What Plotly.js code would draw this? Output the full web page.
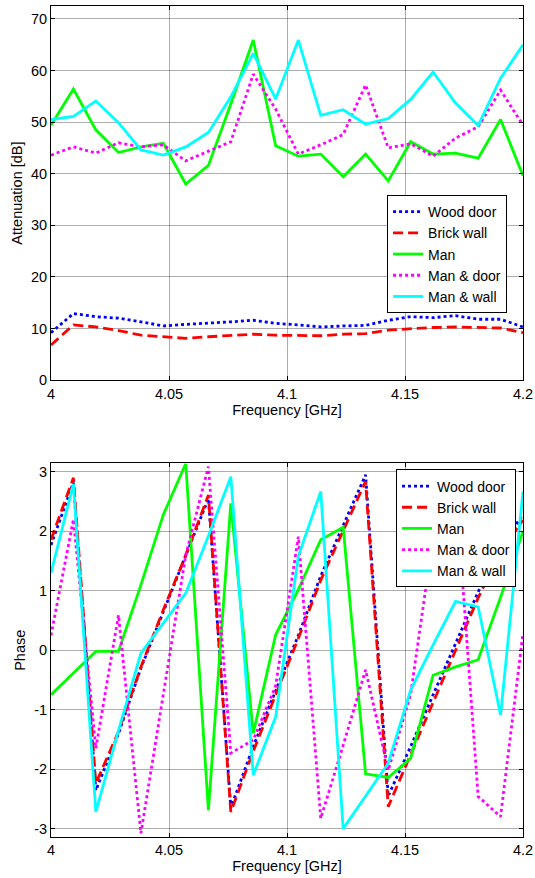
<!DOCTYPE html>
<html>
<head>
<meta charset="utf-8">
<script src="https://cdn.plot.ly/plotly-3.0.1.min.js"></script>
<style>
html,body{margin:0;padding:0;background:#fff;}
#chart{width:535px;height:878px;}
</style>
</head>
<body>
<div id="chart"></div>
<script>
// Frequency samples [GHz]
var freq = [4.0000, 4.0095, 4.0190, 4.0286, 4.0381, 4.0476, 4.0571, 4.0667, 4.0762, 4.0857, 4.0952,
            4.1048, 4.1143, 4.1238, 4.1333, 4.1429, 4.1524, 4.1619, 4.1714, 4.1810, 4.1905, 4.2000];

var seriesNames = ["Wood door", "Brick wall", "Man", "Man & door", "Man & wall"];

// Attenuation [dB]
var attWoodDoor  = [9.2, 12.9, 12.3, 12.0, 11.3, 10.5, 10.8, 11.0, 11.3, 11.6, 11.0,
                    10.7, 10.3, 10.5, 10.6, 11.6, 12.3, 12.1, 12.5, 11.8, 11.8, 10.3];
var attBrickWall = [6.8, 10.7, 10.3, 9.6, 8.7, 8.4, 8.1, 8.4, 8.7, 8.9, 8.7,
                    8.6, 8.6, 8.9, 9.0, 9.7, 10.0, 10.2, 10.3, 10.2, 10.1, 9.2];
var attMan       = [49.4, 56.4, 48.5, 44.1, 45.2, 45.9, 38.0, 41.6, 53.5, 65.9, 45.4,
                    43.4, 43.8, 39.4, 43.8, 38.6, 46.2, 43.8, 44.0, 43.0, 50.5, 39.6];
var attManDoor   = [43.6, 45.2, 44.0, 46.0, 45.2, 45.6, 42.5, 44.3, 46.2, 59.3, 52.5,
                    43.8, 45.6, 47.6, 57.2, 45.0, 45.8, 43.4, 46.9, 49.1, 56.2, 49.4];
var attManWall   = [50.5, 51.1, 54.1, 49.9, 44.6, 43.6, 45.2, 48.0, 54.9, 63.3, 54.5,
                    65.9, 51.3, 52.4, 49.6, 50.7, 54.4, 59.7, 53.7, 49.3, 58.5, 65.0];

// Phase [rad]
var phWoodDoor  = [1.77, 2.82, -2.36, -1.40, -0.30, 0.65, 1.60, 2.55, -2.65, -1.62, -0.68,
                   0.25, 1.25, 2.10, 2.95, -2.45, -1.62, -0.75, 0.10, 0.98, 1.75, 2.28];
var phBrickWall = [1.86, 2.90, -2.24, -1.37, -0.28, 0.68, 1.60, 2.61, -2.72, -1.70, -0.75,
                   0.20, 1.18, 2.00, 2.84, -2.63, -1.75, -0.88, 0.00, 0.88, 1.65, 2.19];
var phMan       = [-0.75, -0.38, -0.02, -0.02, 1.10, 2.28, 3.14, -2.69, 2.47, -1.40, 0.26,
                   1.02, 1.86, 2.07, -2.08, -2.14, -1.82, -0.42, -0.28, -0.16, 0.89, 2.00];
var phManDoor   = [0.25, 2.20, -1.65, 0.59, -3.08, -0.72, 1.60, 3.09, -1.73, -1.51, -0.60,
                   1.91, -2.83, -1.60, -0.33, -2.02, -0.74, 1.90, 2.80, -2.46, -2.80, 0.29];
var phManWall   = [1.30, 2.80, -2.72, -1.35, -0.05, 0.45, 0.96, 1.92, 2.92, -2.10, -1.12,
                   1.58, 2.67, -3.00, -2.46, -1.90, -0.67, 0.09, 0.82, 0.73, -1.09, 2.67];

var colors = ["#0000ff", "#ff0000", "#00ff00", "#ff00ff", "#00ffff"];
var dashes = ["dot", "10px,5px", "solid", "dot", "solid"];

var attData = [attWoodDoor, attBrickWall, attMan, attManDoor, attManWall];
var phData  = [phWoodDoor, phBrickWall, phMan, phManDoor, phManWall];

var traces = [];
for (var k = 0; k < seriesNames.length; k++) {
  traces.push({
    x: freq, y: attData[k], name: seriesNames[k], type: "scatter", mode: "lines",
    xaxis: "x", yaxis: "y", legend: "legend",
    line: {color: colors[k], width: 2.8, dash: dashes[k]}
  });
}
for (var k = 0; k < seriesNames.length; k++) {
  traces.push({
    x: freq, y: phData[k], name: seriesNames[k], type: "scatter", mode: "lines",
    xaxis: "x2", yaxis: "y2", legend: "legend2",
    line: {color: colors[k], width: 2.8, dash: dashes[k]}
  });
}

var xTicks = [4, 4.05, 4.1, 4.15, 4.2];
var xTickText = ["4", "4.05", "4.1", "4.15", "4.2"];
var attTicks = [0, 10, 20, 30, 40, 50, 60, 70];
var phTicks = [-3, -2, -1, 0, 1, 2, 3];
var phTickText = ["-3", "-2", "-1", "0", "1", "2", "3"];

var fontFam = "Liberation Sans, Arial, sans-serif";
var FS = 14.5;
var axisCommon = {
  showline: true, linecolor: "#000", linewidth: 1, mirror: "ticks",
  ticks: "inside", ticklen: 4, tickcolor: "#000",
  showgrid: true, gridcolor: "rgba(0,0,0,0.32)", gridwidth: 1,
  zeroline: false, tickfont: {family: fontFam, size: FS, color: "#000"}
};
function ax(extra) { return Object.assign({}, axisCommon, extra); }

var layout = {
  width: 535, height: 878,
  margin: {l: 51, r: 12, t: 6, b: 41},
  paper_bgcolor: "#fff", plot_bgcolor: "#fff",
  font: {family: fontFam, size: FS, color: "#000"},
  xaxis: ax({domain: [0, 1], anchor: "y", range: [4, 4.2], tickvals: xTicks, ticktext: xTickText,
    title: {text: "Frequency [GHz]", font: {size: FS}, standoff: 2}}),
  yaxis: ax({domain: [0.5498, 1], anchor: "x", range: [0, 72.5], tickvals: attTicks,
    title: {text: "Attenuation [dB]", font: {size: FS}, standoff: 4}}),
  xaxis2: ax({domain: [0, 1], anchor: "y2", range: [4, 4.2], tickvals: xTicks, ticktext: xTickText,
    title: {text: "Frequency [GHz]", font: {size: FS}, standoff: 2}}),
  yaxis2: ax({domain: [0, 0.4495], anchor: "x2", range: [-Math.PI, Math.PI], tickvals: phTicks,
    ticktext: phTickText,
    title: {text: "Phase", font: {size: FS}, standoff: 5}}),
  legend: {x: 0.712, y: 0.7725, xanchor: "left", yanchor: "top", bgcolor: "#fff",
    bordercolor: "#000", borderwidth: 1, font: {family: fontFam, size: 14, color: "#000"},
    itemwidth: 30, tracegroupgap: 0},
  legend2: {x: 0.731, y: 0.4423, xanchor: "left", yanchor: "top", bgcolor: "#fff",
    bordercolor: "#000", borderwidth: 1, font: {family: fontFam, size: 14, color: "#000"},
    itemwidth: 30, tracegroupgap: 0},
  showlegend: true
};

Plotly.newPlot("chart", traces, layout, {displayModeBar: false, staticPlot: true});
</script>
</body>
</html>
